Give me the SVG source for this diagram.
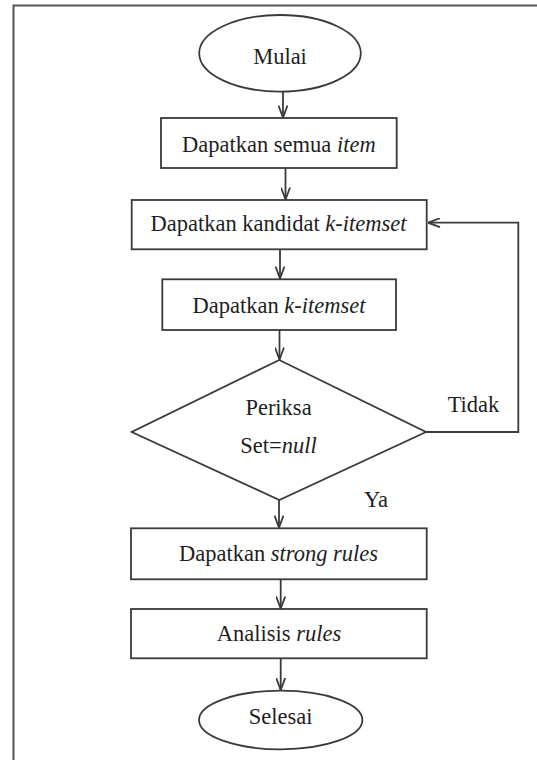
<svg xmlns="http://www.w3.org/2000/svg" width="537" height="760" viewBox="0 0 537 760" font-family="Liberation Serif, Times New Roman, serif">
<style>
.shape{fill:#fff;stroke:#3a3a3a;stroke-width:1.8}
.lbl{font-size:22.5px;fill:#1e1e1e;text-anchor:middle}
.it{font-style:italic}
.conn{fill:none;stroke:#3a3a3a;stroke-width:1.8}
.frame{fill:none;stroke:#555;stroke-width:2}
</style>
<defs>
<marker id="arr" viewBox="0 0 13 10" markerWidth="13" markerHeight="10" refX="12.5" refY="5" orient="auto" markerUnits="userSpaceOnUse">
<path d="M0.5,0.5 L12.5,5 L0.5,9.5" fill="none" stroke="#3a3a3a" stroke-width="1.8"/>
</marker>
</defs>
<rect width="537" height="760" fill="#fff"/>
<path class="frame" d="M13.5,762 L13.5,5.5 L539,5.5"/>
<g id="connectors">
<line class="conn" x1="283" y1="92" x2="283" y2="117.5" marker-end="url(#arr)"/>
<line class="conn" x1="285.5" y1="168" x2="285.5" y2="199.5" marker-end="url(#arr)"/>
<line class="conn" x1="280" y1="249.5" x2="280" y2="278.5" marker-end="url(#arr)"/>
<line class="conn" x1="279.5" y1="330" x2="279.5" y2="359.5" marker-end="url(#arr)"/>
<line class="conn" x1="279" y1="500" x2="279" y2="527.5" marker-end="url(#arr)"/>
<line class="conn" x1="280.7" y1="579.5" x2="280.7" y2="608.5" marker-end="url(#arr)"/>
<line class="conn" x1="280.7" y1="658.5" x2="280.7" y2="690" marker-end="url(#arr)"/>
<polyline class="conn" points="426,432 518.3,432 518.3,222.7 428,222.7" marker-end="url(#arr)"/>
<text class="lbl" x="473.5" y="411.7" font-family="Liberation Serif, serif">Tidak</text>
<text class="lbl" x="376" y="507.3" font-family="Liberation Serif, serif">Ya</text>
</g>
<g id="start">
<ellipse class="shape" cx="280" cy="53.3" rx="80.8" ry="38.3"/>
<text class="lbl" x="280" y="64" font-family="Liberation Serif, serif">Mulai</text>
</g>
<g id="get-items">
<rect class="shape" x="161" y="118" width="235.7" height="50"/>
<text class="lbl" x="278.8" y="151.7" font-family="Liberation Serif, serif">Dapatkan semua <tspan class="it">item</tspan></text>
</g>
<g id="get-candidates">
<rect class="shape" x="131.7" y="200" width="295" height="49.3"/>
<text class="lbl" x="278.5" y="230.7" font-family="Liberation Serif, serif">Dapatkan kandidat <tspan class="it">k-itemset</tspan></text>
</g>
<g id="get-itemset">
<rect class="shape" x="162.3" y="279.3" width="233.7" height="50.7"/>
<text class="lbl" x="279" y="312.7" font-family="Liberation Serif, serif">Dapatkan <tspan class="it">k-itemset</tspan></text>
</g>
<g id="check">
<polygon class="shape" points="279.3,360 426,432 279.3,500 131.7,432"/>
<text class="lbl" x="278.5" y="415" font-family="Liberation Serif, serif">Periksa</text>
<text class="lbl" x="278.5" y="452.7" font-family="Liberation Serif, serif">Set=<tspan class="it">null</tspan></text>
</g>
<g id="strong-rules">
<rect class="shape" x="131" y="528.3" width="295.7" height="51"/>
<text class="lbl" x="278.5" y="560.7" font-family="Liberation Serif, serif">Dapatkan <tspan class="it">strong rules</tspan></text>
</g>
<g id="analyze">
<rect class="shape" x="131" y="609" width="295.7" height="49.3"/>
<text class="lbl" x="279" y="640.7" font-family="Liberation Serif, serif">Analisis <tspan class="it">rules</tspan></text>
</g>
<g id="end">
<ellipse class="shape" cx="280.7" cy="720" rx="81.7" ry="29.3"/>
<text class="lbl" x="280.7" y="724" font-family="Liberation Serif, serif">Selesai</text>
</g>
</svg>
